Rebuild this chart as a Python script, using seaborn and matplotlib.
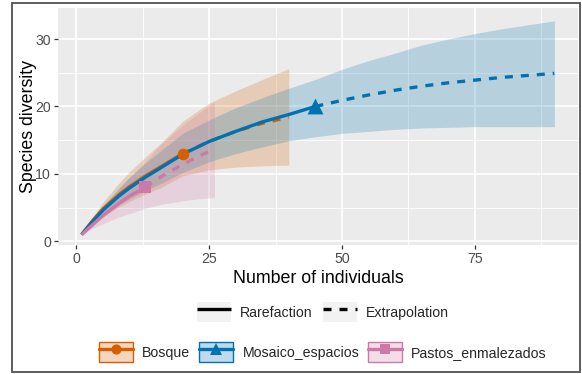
import numpy as np
import pandas as pd
import seaborn as sns
import matplotlib
matplotlib.use("Agg")
import matplotlib.pyplot as plt
from matplotlib.patches import Patch, Rectangle
from matplotlib.lines import Line2D
from matplotlib.legend_handler import HandlerTuple

# ---------------- data ----------------
sites = ["Bosque", "Mosaico_espacios", "Pastos_enmalezados"]
methods = ["Rarefaction", "Extrapolation"]

# Bosque
bos_n_rare = [1, 3, 5, 8, 10, 13, 16, 20]
bos_s_rare = [1, 3.0, 4.8, 6.9, 8.1, 9.7, 11.1, 13.0]
bos_n_ext = [20, 25, 30, 35, 40]
bos_s_ext = [13.0, 14.8, 16.3, 17.5, 18.4]
bos_n_ci = [1, 3, 5, 8, 10, 13, 16, 20, 25, 30, 35, 40]
bos_lo = [1, 2.4, 3.6, 5.1, 5.9, 7.0, 8.0, 9.7, 10.6, 11.0, 11.2, 11.3]
bos_hi = [1, 3.5, 5.8, 8.6, 10.3, 12.5, 14.6, 17.8, 20.5, 22.3, 24.0, 25.6]

# Mosaico_espacios
mos_n_rare = [1, 3, 5, 8, 10, 13, 16, 20, 25, 30, 35, 40, 45]
mos_s_rare = [1, 2.85, 4.6, 6.7, 7.9, 9.5, 10.95, 12.9, 14.8, 16.3, 17.7, 18.8, 20.0]
mos_n_ext = [45, 50, 55, 60, 65, 70, 75, 80, 85, 90]
mos_s_ext = [20.0, 20.9, 21.7, 22.4, 23.0, 23.5, 23.9, 24.3, 24.6, 24.9]
mos_n_ci = [1, 3, 5, 8, 10, 13, 16, 20, 25, 30, 35, 40, 45,
            50, 55, 60, 65, 70, 75, 80, 85, 90]
mos_lo = [1, 2.5, 3.8, 5.4, 6.3, 7.5, 8.6, 10.2, 11.8, 13.0, 14.0, 14.9, 15.5,
          16.0, 16.3, 16.6, 16.8, 16.9, 17.0, 17.0, 17.0, 17.0]
mos_hi = [1, 3.2, 5.3, 7.9, 9.5, 11.6, 13.5, 16.0, 18.0, 19.8, 21.3, 22.7, 24.0,
          25.5, 26.8, 27.9, 29.1, 30.0, 30.8, 31.5, 32.1, 32.7]

# Pastos_enmalezados
pas_n_rare = [1, 3, 5, 8, 10, 13]
pas_s_rare = [1, 2.4, 3.8, 5.6, 6.7, 8.0]
pas_n_ext = [13, 16, 20, 23, 26]
pas_s_ext = [8.0, 9.6, 11.4, 12.6, 13.7]
pas_n_ci = [1, 3, 5, 8, 10, 13, 16, 20, 23, 26]
pas_lo = [1, 1.9, 2.6, 3.6, 4.1, 4.9, 5.5, 6.0, 6.3, 6.5]
pas_hi = [1, 2.9, 4.9, 7.7, 9.4, 11.8, 14.5, 17.2, 19.0, 20.7]

# observed points
obs_site = sites
obs_n = [20, 45, 13]
obs_s = [13.0, 20.0, 8.0]

colors = {"Bosque": "#D55E00", "Mosaico_espacios": "#0072B2",
          "Pastos_enmalezados": "#CC79A7"}
markers = {"Bosque": "o", "Mosaico_espacios": "^", "Pastos_enmalezados": "s"}
msizes = {"Bosque": 70, "Mosaico_espacios": 130, "Pastos_enmalezados": 66}

# ---------------- tables ----------------
rows = []
for site, nr, sr, ne, se in [
    ("Bosque", bos_n_rare, bos_s_rare, bos_n_ext, bos_s_ext),
    ("Mosaico_espacios", mos_n_rare, mos_s_rare, mos_n_ext, mos_s_ext),
    ("Pastos_enmalezados", pas_n_rare, pas_s_rare, pas_n_ext, pas_s_ext),
]:
    for n, s in zip(nr, sr):
        rows.append((site, "Rarefaction", n, s))
    for n, s in zip(ne, se):
        rows.append((site, "Extrapolation", n, s))
curves = pd.DataFrame(rows, columns=["site", "method", "n", "S"])

ci = {
    "Bosque": (bos_n_ci, bos_lo, bos_hi),
    "Mosaico_espacios": (mos_n_ci, mos_lo, mos_hi),
    "Pastos_enmalezados": (pas_n_ci, pas_lo, pas_hi),
}
obs = pd.DataFrame({"site": obs_site, "n": obs_n, "S": obs_s})

# ---------------- figure ----------------
sns.set_theme(style="darkgrid")
plt.rcParams["font.family"] = ["Liberation Sans", "DejaVu Sans"]

W, H = 582, 374
fig = plt.figure(figsize=(W / 100, H / 100), dpi=100)
fig.patch.set_facecolor("white")
L, R, T, B = 58, 578, 8, 245
ax = fig.add_axes([L / W, 1 - B / H, (R - L) / W, (B - T) / H])
ax.set_facecolor("#EBEBEB")

alpha = 0.22
for site in sites:
    n, lo, hi = ci[site]
    ax.fill_between(n, lo, hi, color=colors[site], alpha=alpha, lw=0, zorder=1)

lw = 2.4
sns.lineplot(data=curves, x="n", y="S", hue="site", style="method",
             hue_order=sites, style_order=methods, palette=colors,
             dashes={"Rarefaction": "", "Extrapolation": (2.4, 2.4)},
             sort=False, estimator=None, errorbar=None, lw=lw,
             legend=False, ax=ax, zorder=3)
for ln in ax.lines:
    ln.set_dash_capstyle("butt")
    ln.set_solid_capstyle("butt")

for site in sites:
    sub = obs[obs["site"] == site]
    sns.scatterplot(data=sub, x="n", y="S", color=colors[site],
                    marker=markers[site], s=msizes[site], linewidth=0,
                    legend=False, ax=ax, zorder=4)

ax.set_xlim(-3.45, 94.45)
ax.set_ylim(-0.55, 34.6)
ax.set_xticks([0, 25, 50, 75])
ax.set_yticks([0, 10, 20, 30])
ax.set_xticks([12.5, 37.5, 62.5, 87.5], minor=True)
ax.set_yticks([5, 15, 25], minor=True)
ax.grid(which="major", color="white", lw=1.25)
ax.grid(which="minor", color="white", lw=0.6)
for sp in ax.spines.values():
    sp.set_visible(False)
ax.tick_params(axis="both", which="major", length=3, width=0.9,
               color="#333333", labelcolor="#4D4D4D", labelsize=10.2, pad=2,
               bottom=True, left=True)
ax.tick_params(axis="both", which="minor", length=0)
ax.set_xlabel("Number of individuals", fontsize=12.8, color="black", labelpad=3)
ax.set_ylabel("Species diversity", fontsize=12.8, color="black", labelpad=-1)

# ---------------- legends ----------------
fs = 10.2
key_bg = Patch(facecolor="#F2F2F2", edgecolor="none")
h1 = [(key_bg, Line2D([], [], color="black", lw=lw, solid_capstyle="butt")),
      (key_bg, Line2D([], [], color="black", lw=lw, ls=(0, (2.4, 2.4)),
                      dash_capstyle="butt"))]
leg1 = fig.legend(h1, methods, loc="center", ncol=2,
                  bbox_to_anchor=(323 / W, 1 - 312 / H), frameon=False,
                  fontsize=fs, handlelength=2.4, handleheight=1.9,
                  handletextpad=0.64, columnspacing=0.7, borderpad=0,
                  handler_map={tuple: HandlerTuple(ndivide=1)})
h2 = []
for site in sites:
    c = colors[site]
    box = Patch(facecolor=matplotlib.colors.to_rgba(c, 0.25), edgecolor=c, lw=1.0)
    ms = 9.0 if site == "Mosaico_espacios" else 7.3
    line = Line2D([], [], color=c, lw=lw, marker=markers[site], markersize=ms,
                  markeredgewidth=0)
    h2.append((box, line))
leg2 = fig.legend(h2, sites, loc="center", ncol=3,
                  bbox_to_anchor=(323 / W, 1 - 352 / H), frameon=False,
                  fontsize=fs, handlelength=2.4, handleheight=1.9,
                  handletextpad=0.64, columnspacing=0.64, borderpad=0,
                  handler_map={tuple: HandlerTuple(ndivide=1)})

# outer frame
fig.add_artist(Rectangle((12 / W, 1 - 372 / H), (580 - 12) / W, (372 - 3) / H,
                         transform=fig.transFigure, fill=False,
                         edgecolor="#505050", lw=1.3, zorder=10))

fig.savefig("out.png", dpi=100)
